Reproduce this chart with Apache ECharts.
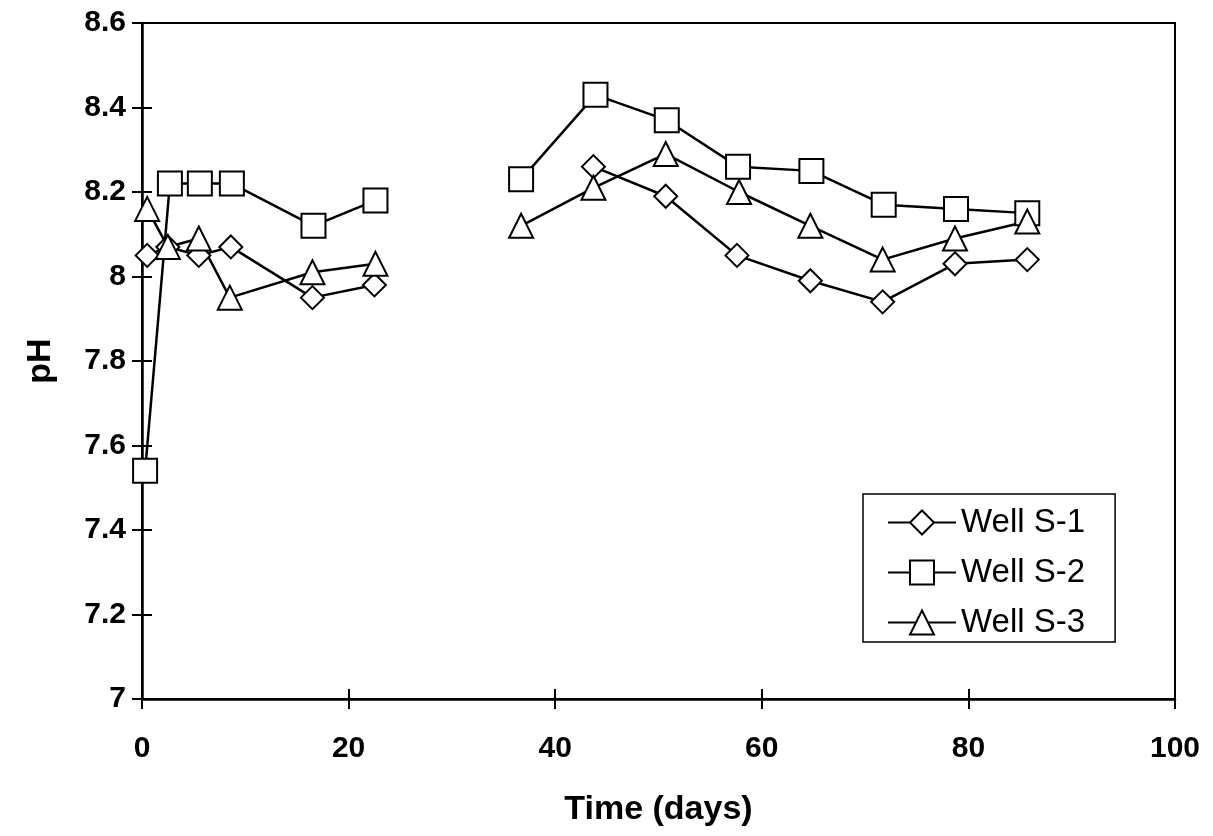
<!DOCTYPE html>
<html><head><meta charset="utf-8">
<script src="https://cdn.jsdelivr.net/npm/echarts@6/dist/echarts.min.js"></script>
<style>html,body{margin:0;padding:0;background:#fff}#c{width:1213px;height:836px}</style>
</head><body><div id="c"></div>
<script>
// Well S-1 (diamonds)
const s1DaysA = [0.5, 2.5, 5.5, 8.6, 16.5, 22.5];
const s1ValsA = [8.05, 8.07, 8.05, 8.07, 7.95, 7.98];
const s1DaysB = [43.7, 50.7, 57.6, 64.7, 71.7, 78.7, 85.7];
const s1ValsB = [8.26, 8.19, 8.05, 7.99, 7.94, 8.03, 8.04];
// Well S-2 (squares)
const s2DaysA = [0.3, 2.7, 5.6, 8.7, 16.6, 22.6];
const s2ValsA = [7.54, 8.22, 8.22, 8.22, 8.12, 8.18];
const s2DaysB = [36.7, 43.9, 50.8, 57.7, 64.8, 71.8, 78.8, 85.7];
const s2ValsB = [8.23, 8.43, 8.37, 8.26, 8.25, 8.17, 8.16, 8.15];
// Well S-3 (triangles)
const s3DaysA = [0.5, 2.5, 5.5, 8.5, 16.5, 22.6];
const s3ValsA = [8.16, 8.07, 8.09, 7.95, 8.01, 8.03];
const s3DaysB = [36.7, 43.7, 50.7, 57.8, 64.7, 71.7, 78.7, 85.7];
const s3ValsB = [8.12, 8.21, 8.29, 8.20, 8.12, 8.04, 8.09, 8.13];

const seriesNames = ['Well S-1', 'Well S-2', 'Well S-3'];
const xTicks = [0, 20, 40, 60, 80, 100];
const yTicks = [7, 7.2, 7.4, 7.6, 7.8, 8, 8.2, 8.4, 8.6];

function build(dA, vA, dB, vB) {
  const a = dA.map((d, i) => [d, vA[i]]);
  const b = dB.map((d, i) => [d, vB[i]]);
  return a.concat([['-', '-']]).concat(b);
}

const FONT = 'Liberation Sans, Arial, sans-serif';
const black = '#000';

const chart = echarts.init(document.getElementById('c'), null, {renderer: 'canvas'});
const baseX = {type: 'value', min: xTicks[0], max: xTicks[xTicks.length - 1], interval: 20, position: 'bottom', splitLine: {show: false}};
const baseY = {type: 'value', min: yTicks[0], max: yTicks[yTicks.length - 1], interval: 0.2, position: 'left', splitLine: {show: false}};

function sym(name, symbol, size, data) {
  return {
    name: name, type: 'line', data: data, symbol: symbol, symbolSize: size,
    showAllSymbol: true, connectNulls: false,
    lineStyle: {color: black, width: 2.5},
    itemStyle: {color: '#fff', borderColor: black, borderWidth: 2},
    emphasis: {disabled: true}
  };
}

chart.setOption({
  animation: false,
  backgroundColor: '#fff',
  grid: {left: 142, right: 38, top: 23, bottom: 137, show: true, borderColor: black, borderWidth: 2, backgroundColor: 'transparent'},
  xAxis: [
    Object.assign({}, baseX, {
      axisLine: {show: true, lineStyle: {color: black, width: 2.5}},
      axisTick: {show: true, inside: false, length: 10, lineStyle: {color: black, width: 2}},
      axisLabel: {color: black, fontFamily: FONT, fontWeight: 'bold', fontSize: 30, margin: 35},
      name: 'Time (days)', nameLocation: 'middle', nameGap: 94,
      nameTextStyle: {color: black, fontFamily: FONT, fontWeight: 'bold', fontSize: 34}
    }),
    Object.assign({}, baseX, {
      axisLine: {show: false},
      axisTick: {show: true, inside: true, length: 10, lineStyle: {color: black, width: 2}},
      axisLabel: {show: false}
    })
  ],
  yAxis: [
    Object.assign({}, baseY, {
      axisLine: {show: true, lineStyle: {color: black, width: 2.5}},
      axisTick: {show: true, inside: false, length: 10, lineStyle: {color: black, width: 2}},
      axisLabel: {color: black, fontFamily: FONT, fontWeight: 'bold', fontSize: 30, margin: 16,
        formatter: v => String(Math.round(v * 10) / 10)},
      name: 'pH', nameLocation: 'middle', nameGap: 84,
      nameTextStyle: {color: black, fontFamily: FONT, fontWeight: 'bold', fontSize: 34}
    }),
    Object.assign({}, baseY, {
      axisLine: {show: false},
      axisTick: {show: true, inside: true, length: 10, lineStyle: {color: black, width: 2}},
      axisLabel: {show: false}
    })
  ],
  legend: {
    orient: 'vertical', left: 863, top: 494,
    padding: [12, 30, 3, 24], itemWidth: 68, itemHeight: 30, itemGap: 17,
    borderColor: black, borderWidth: 1.5, backgroundColor: '#fff',
    textStyle: {color: black, fontFamily: FONT, fontSize: 33},
    data: seriesNames
  },
  series: [
    sym(seriesNames[0], 'diamond', 23, build(s1DaysA, s1ValsA, s1DaysB, s1ValsB)),
    sym(seriesNames[1], 'rect', 24, build(s2DaysA, s2ValsA, s2DaysB, s2ValsB)),
    sym(seriesNames[2], 'triangle', 24, build(s3DaysA, s3ValsA, s3DaysB, s3ValsB))
  ]
});
</script>
</body></html>
